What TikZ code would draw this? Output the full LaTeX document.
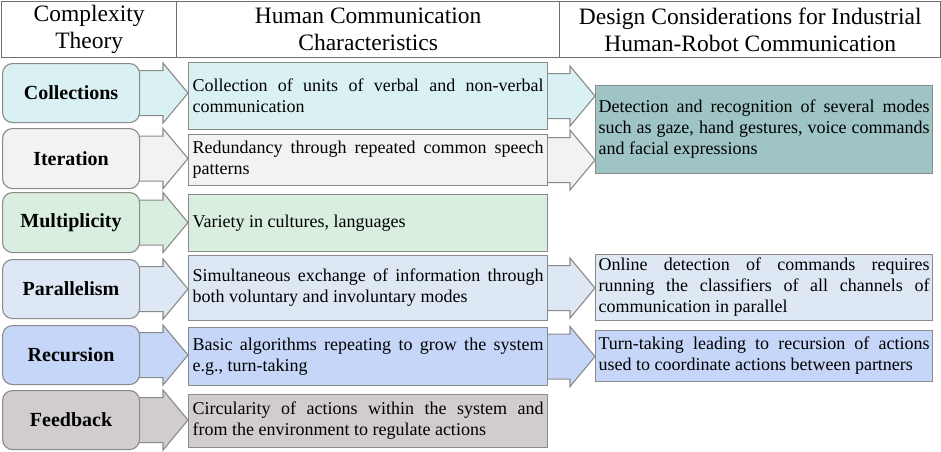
\documentclass[tikz,border=0pt]{standalone}
\usepackage{fontspec}
\setmainfont{Liberation Serif}
\usetikzlibrary{calc,backgrounds}
\definecolor{cColl}{HTML}{DAF1F3}
\definecolor{cIter}{HTML}{F2F2F2}
\definecolor{cMult}{HTML}{D9EEDE}
\definecolor{cPara}{HTML}{DEE8F5}
\definecolor{cRecu}{HTML}{C6D6F8}
\definecolor{cFeed}{HTML}{D0CDCC}
\definecolor{cTeal}{HTML}{9EC4C6}
\definecolor{bgray}{HTML}{8A8A8A}
\definecolor{hgray}{HTML}{707070}
\tikzset{
  lbox/.style={draw=bgray, line width=1.1pt, rounded corners=10pt, inner sep=0pt,
    minimum width=137pt, anchor=north west, align=center,
    font=\fontsize{20}{24}\selectfont\bfseries},
  mbox/.style={draw=bgray, line width=1.1pt, inner xsep=4pt, inner ysep=0pt,
    text width=351pt, anchor=north west, align=justify,
    font=\fontsize{18}{21}\selectfont},
  rbox/.style={draw=bgray, line width=1.1pt, inner xsep=3pt, inner ysep=0pt,
    text width=331pt, anchor=north west, align=justify,
    font=\fontsize{18}{21}\selectfont},
  hbox/.style={draw=hgray, line width=1.4pt, inner sep=0pt, minimum height=56pt,
    anchor=north west, align=center, font=\fontsize{23.5}{27}\selectfont},
  barr/.style={draw=bgray, line width=1.1pt}
}
\newcommand{\blockarrow}[3]{%
  \path[barr, fill=#3] let \p1=(#1.east), \p2=(#2.west) in
    (\x1-6pt,\y1+22.5pt) -- (\x2-25pt,\y1+22.5pt) -- (\x2-25pt,\y1+30pt) --
    (\x2,\y1) -- (\x2-25pt,\y1-30pt) -- (\x2-25pt,\y1-22.5pt) --
    (\x1-6pt,\y1-22.5pt) -- cycle;}
\begin{document}
\begin{tikzpicture}[x=1pt,y=-1pt]
\useasboundingbox (0,0) rectangle (941,451);
\tolerance=10000 \hyphenpenalty=10000
% header
\node[hbox, minimum width=175pt] (H1) at (1,1) {Complexity\\Theory};
\node[hbox, minimum width=383pt] (H2) at (176,1) {Human Communication\\Characteristics};
\node[hbox, minimum width=381pt] (H3) at (559,1) {Design Considerations for Industrial\\Human-Robot Communication};
% left boxes
\node[lbox, fill=cColl, minimum height=59pt] (L1) at (2,63) {Collections};
\node[lbox, fill=cIter, minimum height=60pt] (L2) at (2,128) {Iteration};
\node[lbox, fill=cMult, minimum height=60pt] (L3) at (2,192) {Multiplicity};
\node[lbox, fill=cPara, minimum height=59pt] (L4) at (2,259) {Parallelism};
\node[lbox, fill=cRecu, minimum height=59pt] (L5) at (2,325) {Recursion};
\node[lbox, fill=cFeed, minimum height=59pt] (L6) at (2,390) {Feedback};
% middle boxes
\node[mbox, fill=cColl, minimum height=67pt] (M1) at (188,62) {Collection of units of verbal and non-verbal\linebreak communication};
\node[mbox, fill=cIter, minimum height=51pt] (M2) at (188,134) {Redundancy through repeated common speech\linebreak patterns};
\node[mbox, fill=cMult, minimum height=57pt] (M3) at (188,194) {Variety in cultures, languages};
\node[mbox, fill=cPara, minimum height=65pt] (M4) at (188,255) {Simultaneous exchange of information through\linebreak both voluntary and involuntary modes};
\node[mbox, fill=cRecu, minimum height=58pt] (M5) at (188,327) {Basic algorithms repeating to grow the system\linebreak e.g., turn-taking};
\node[mbox, fill=cFeed, minimum height=53pt] (M6) at (188,394) {Circularity of actions within the system and\linebreak from the environment to regulate actions};
% right boxes
\node[rbox, fill=cTeal, minimum height=88pt] (R1) at (595,85) {Detection and recognition of several modes\linebreak such as gaze, hand gestures, voice commands\linebreak and facial expressions};
\node[rbox, fill=cPara, minimum height=66pt] (R4) at (595,254) {Online detection of commands requires\linebreak running the classifiers of all channels of\linebreak communication in parallel};
\node[rbox, fill=cRecu, minimum height=51pt] (R5) at (595,330) {Turn-taking leading to recursion of actions\linebreak used to coordinate actions between partners};
% block arrows
\begin{pgfonlayer}{background}
\blockarrow{L1}{M1}{cColl}
\blockarrow{L2}{M2}{cIter}
\blockarrow{L3}{M3}{cMult}
\blockarrow{L4}{M4}{cPara}
\blockarrow{L5}{M5}{cRecu}
\blockarrow{L6}{M6}{cFeed}
\blockarrow{M1}{R1}{cColl}
\blockarrow{M2}{R1}{cIter}
\blockarrow{M4}{R4}{cPara}
\blockarrow{M5}{R5}{cRecu}
\end{pgfonlayer}
\end{tikzpicture}
\end{document}
